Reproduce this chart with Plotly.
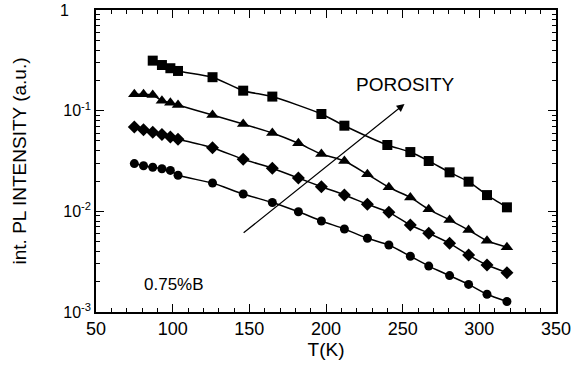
import plotly.graph_objects as go
import numpy as np

# Temperatures (K)
T_sq = [87, 93, 98.5, 103.5, 126, 146, 165, 197, 212, 240, 255, 267, 280.6, 293, 305, 318]
I_sq = [0.314, 0.284, 0.264, 0.248, 0.215, 0.158, 0.138, 0.0927, 0.0709, 0.0456, 0.0388,
        0.0316, 0.0244, 0.0197, 0.0145, 0.01096]

T_all = [75, 81, 87, 93, 98.5, 103.5, 126, 146, 165, 182, 197, 212, 227, 241, 255, 267, 280.6, 293, 305, 318]
I_tri = [0.1455, 0.1455, 0.143, 0.1256, 0.120, 0.1138, 0.0906, 0.0737, 0.060, 0.0474, 0.0371,
         0.0316, 0.0233, 0.0173, 0.01374, 0.01047, 0.0082, 0.00653, 0.0051, 0.0044]
I_dia = [0.0689, 0.0647, 0.061, 0.058, 0.0548, 0.0521, 0.0428, 0.0329, 0.0268, 0.0214, 0.01757,
         0.01453, 0.01175, 0.00978, 0.00731, 0.00605, 0.00481, 0.00368, 0.00293, 0.00246]
I_cir = [0.0298, 0.0284, 0.0274, 0.0265, 0.0255, 0.0228, 0.0191, 0.01486, 0.01225, 0.0099, 0.00802,
         0.00668, 0.0054, 0.00463, 0.00358, 0.00286, 0.0023, 0.00188, 0.0015, 0.00127]

y_tickvals = [1e-3, 1e-2, 1e-1, 1]
y_ticktext = ["10<sup>-3</sup>", "10<sup>-2</sup>", "10<sup>-1</sup>", "1&nbsp;&nbsp;&nbsp;&nbsp;&nbsp;"]
x_tickvals = [50, 100, 150, 200, 250, 300, 350]

FONT = "Arial, Liberation Sans, sans-serif"

fig = go.Figure()
series = [
    (T_sq, I_sq, "square", 10),
    (T_all, I_tri, "triangle-up", 11),
    (T_all, I_dia, "diamond", 10),
    (T_all, I_cir, "circle", 9),
]
for xs, ys, sym, sz in series:
    fig.add_trace(go.Scatter(
        x=xs, y=ys, mode="lines+markers",
        line=dict(color="black", width=1.5, shape="spline", smoothing=0.6),
        marker=dict(symbol=sym, size=sz, color="black", line=dict(width=0)),
        showlegend=False,
    ))

# minor tick positions (style)
y_minor = [m * 10.0 ** e for e in (-3, -2, -1) for m in range(2, 10)]

fig.update_xaxes(
    range=[50, 350], tickvals=x_tickvals, ticks="inside", ticklen=8, tickwidth=1,
    tickcolor="black", showline=True, linecolor="black", linewidth=1.5, mirror="ticks",
    showgrid=False, zeroline=False, automargin=False,
    minor=dict(ticks="inside", ticklen=4, dtick=10, tickcolor="black", showgrid=False),
    tickfont=dict(family=FONT, size=18, color="black"),
    title=dict(text="T(K)", font=dict(family=FONT, size=19, color="black"), standoff=4),
)
fig.update_yaxes(
    type="log", range=[-3, 0], tickvals=y_tickvals, ticktext=y_ticktext,
    ticks="inside", ticklen=8, tickwidth=1, tickcolor="black",
    showline=True, linecolor="black", linewidth=1.5, mirror="ticks",
    showgrid=False, zeroline=False, automargin=False,
    minor=dict(ticks="inside", ticklen=4, tickvals=y_minor, tickcolor="black", showgrid=False),
    tickfont=dict(family=FONT, size=16, color="black"),
    title=dict(text="int. PL INTENSITY (a.u.)", font=dict(family=FONT, size=19, color="black"), standoff=28),
)

# Arrow annotation
fig.add_annotation(
    x=251.2, y=np.log10(0.1165), ax=145.3, ay=np.log10(0.00596),
    xref="x", yref="y", axref="x", ayref="y",
    showarrow=True, arrowhead=2, arrowsize=1.3, arrowwidth=1.2, arrowcolor="black", text="",
)
fig.add_annotation(
    x=251.6, y=np.log10(0.18), xref="x", yref="y", text="POROSITY", showarrow=False,
    font=dict(family=FONT, size=19, color="black"), xanchor="center", yanchor="middle",
)
fig.add_annotation(
    x=101, y=np.log10(0.00186), xref="x", yref="y", text="0.75%B", showarrow=False,
    font=dict(family=FONT, size=17, color="black"), xanchor="center", yanchor="middle",
)

fig.update_layout(
    width=582, height=366,
    margin=dict(l=96, r=26, t=10, b=54),
    paper_bgcolor="white", plot_bgcolor="white",
    font=dict(family=FONT, color="black"),
)
fig.write_html("out.html")
